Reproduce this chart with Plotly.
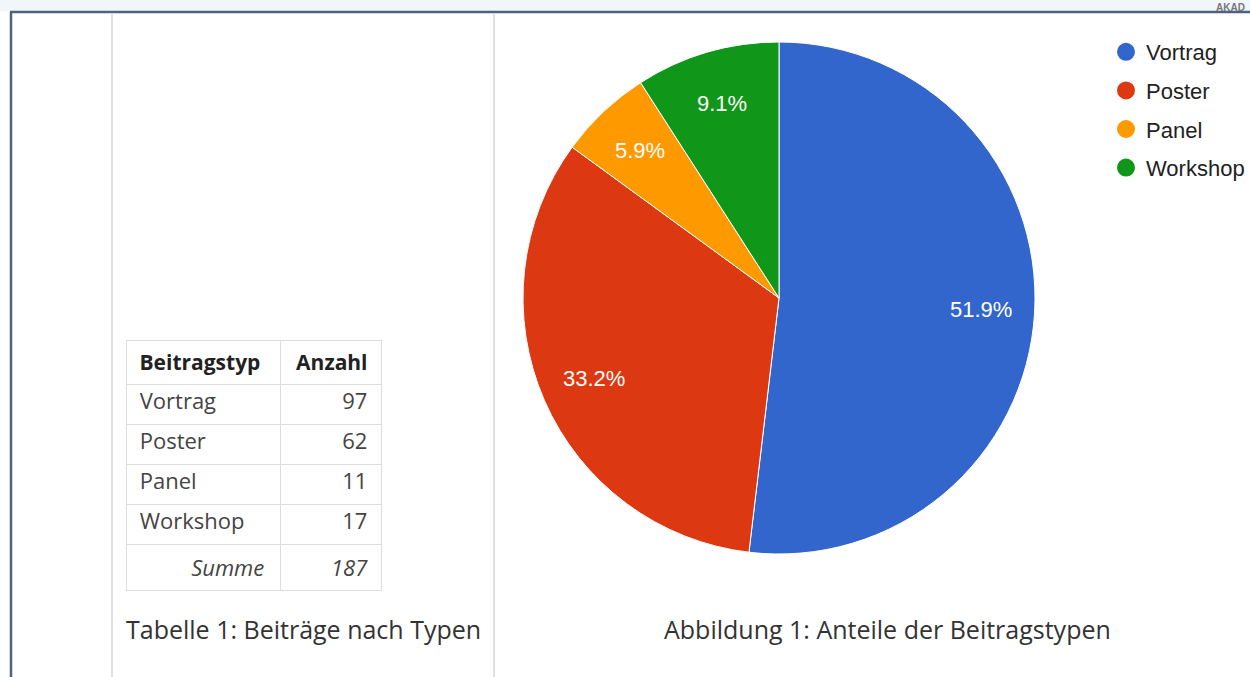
import math
import plotly.graph_objects as go

# ---- data ----
types = ["Vortrag", "Poster", "Panel", "Workshop"]
counts = [97, 62, 11, 17]
colors = ["#3366cc", "#dc3912", "#ff9900", "#109618"]
table_header = ["Beitragstyp", "Anzahl"]
sum_label = "Summe"
table_caption = "Tabelle 1: Beiträge nach Typen"
figure_caption = "Abbildung 1: Anteile der Beitragstypen"

W, H = 1250, 677
total = sum(counts)
NB = "\u00a0"

def px(x):
    return x / W

def py(y):
    return 1 - y / H

fig = go.Figure()

# pie (pixel box of the pie)
pie_left, pie_right, pie_top, pie_bottom = 523, 1035, 42, 554
fig.add_trace(go.Pie(
    labels=types, values=counts, sort=False, direction="clockwise", rotation=0,
    marker=dict(colors=colors, line=dict(color="#ffffff", width=1)),
    textinfo="none",
    showlegend=False, hoverinfo="label+value+percent",
    domain=dict(x=[px(pie_left), px(pie_right)], y=[py(pie_bottom), py(pie_top)]),
))

# percentage labels placed along each slice's mid-angle
cx = (pie_left + pie_right) / 2
cy = (pie_top + pie_bottom) / 2
R = (pie_right - pie_left) / 2
label_r = 0.79 * R
annotations = []
cum = 0
for v in counts:
    mid = (cum + v / 2) / total * 2 * math.pi
    cum += v
    lx = cx + label_r * math.sin(mid)
    ly = cy - label_r * math.cos(mid)
    annotations.append(dict(
        text=f"{v / total * 100:.1f}%", xref="paper", yref="paper",
        x=px(lx), y=py(ly), xanchor="center", yanchor="middle", showarrow=False,
        font=dict(family="Liberation Sans, Arial", size=22, color="#ffffff")))

# legend entries with round markers
for i, (t, c) in enumerate(zip(types, colors)):
    fig.add_trace(go.Scatter(
        x=[None], y=[None], mode="markers", name=t, legendgroup=t,
        marker=dict(color=c, size=20, symbol="circle", line=dict(color=c, width=2)),
        showlegend=True,
    ))

# table
col1 = types + [NB * 9 + "<i>" + sum_label + "</i>"]
col2 = [str(v) for v in counts] + ["<i>" + str(total) + "</i>"]
fig.add_trace(go.Table(
    domain=dict(x=[px(126), px(381)], y=[py(600), py(340)]),
    columnwidth=[154, 101],
    header=dict(
        values=["<b>" + h + "</b>" for h in table_header],
        align=["left", "right"], height=41,
        prefix=[NB, ""], suffix=["", NB],
        fill=dict(color="#ffffff"), line=dict(color="#dddddd", width=1),
        font=dict(family="Open Sans, Noto Sans", size=21, color="#222222"),
    ),
    cells=dict(
        values=[col1, col2],
        align=["left", "right"],
        prefix=[NB, ""], suffix=["", NB],
        height=40,
        fill=dict(color="#ffffff"), line=dict(color="#dddddd", width=1),
        font=dict(family="Open Sans, Noto Sans", size=22, color="#444444"),
    ),
))

shapes = [
    # top light strip
    dict(type="rect", xref="paper", yref="paper", x0=0, x1=1, y0=py(11), y1=1,
         fillcolor="#f1f6fb", line=dict(width=0), layer="below"),
    # outer border
    dict(type="line", xref="paper", yref="paper", x0=px(10), x1=1, y0=py(12), y1=py(12),
         line=dict(color="#52607f", width=2.5)),
    dict(type="line", xref="paper", yref="paper", x0=px(11), x1=px(11), y0=py(12), y1=0,
         line=dict(color="#52607f", width=2.5)),
    # column separators
    dict(type="line", xref="paper", yref="paper", x0=px(112), x1=px(112), y0=py(14), y1=0,
         line=dict(color="#e0e0e0", width=2)),
    dict(type="line", xref="paper", yref="paper", x0=px(494), x1=px(494), y0=py(14), y1=0,
         line=dict(color="#e0e0e0", width=2)),
]

annotations += [
    dict(text=table_caption, xref="paper", yref="paper", x=px(124), y=py(629),
         xanchor="left", yanchor="middle", showarrow=False,
         font=dict(family="Open Sans, Noto Sans", size=25, color="#333333")),
    dict(text=figure_caption, xref="paper", yref="paper", x=px(887), y=py(629),
         xanchor="center", yanchor="middle", showarrow=False,
         font=dict(family="Open Sans, Noto Sans", size=25, color="#333333")),
    dict(text="<b>AKAD</b>", xref="paper", yref="paper", x=px(1247), y=1,
         xanchor="right", yanchor="top", showarrow=False,
         font=dict(family="Liberation Sans, Arial", size=10, color="#777777")),
]

fig.update_layout(
    width=W, height=H, margin=dict(l=0, r=0, t=0, b=0),
    paper_bgcolor="#ffffff", plot_bgcolor="#ffffff",
    xaxis=dict(visible=False, domain=[0, 0.01]), yaxis=dict(visible=False, domain=[0, 0.01]),
    shapes=shapes, annotations=annotations,
    legend=dict(x=px(1106), y=py(31), xanchor="left", yanchor="top",
                font=dict(family="Liberation Sans, Arial", size=22, color="#222222"),
                bgcolor="rgba(0,0,0,0)", tracegroupgap=7, itemwidth=30),
)

fig.write_html(
    "out.html", config={"displayModeBar": False},
    post_script=("document.body.style.margin='0';"
                 "document.body.style.overflow='hidden';"
                 "document.documentElement.style.overflow='hidden';"),
)
